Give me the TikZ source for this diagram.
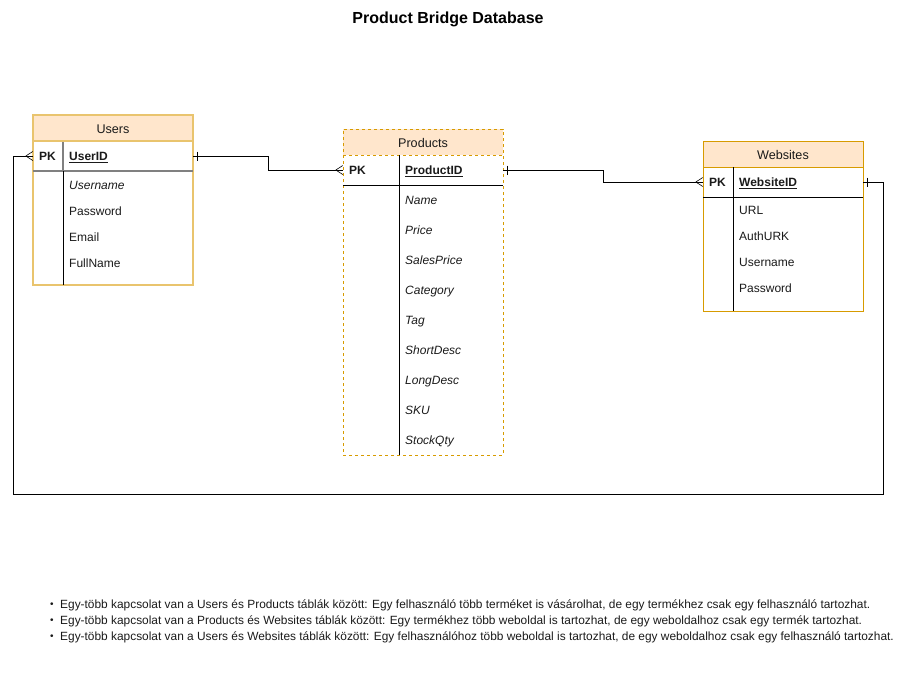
\documentclass[tikz,border=0pt]{standalone}
\usepackage{fontspec}
\setmainfont{Liberation Sans}
\definecolor{hdrfill}{HTML}{FFE6CC}
\definecolor{orng}{HTML}{D79B00}
\definecolor{goldb}{HTML}{E9C46E}
\definecolor{txt}{HTML}{1A1A1A}
\newcommand{\fsz}{\fontsize{12}{14}\selectfont}
\begin{document}
\begin{tikzpicture}[x=1pt,y=-1pt,
  font=\fsz, text=txt,
  tblbox/.style={draw, minimum width=160, inner sep=0},
  hdrbox/.style={draw, fill=hdrfill, minimum width=160, minimum height=26, inner sep=0, text height=11.6, text depth=0, font=\fontsize{12.6}{14}\selectfont},
  pkrow/.style={minimum width=160, minimum height=30, inner sep=0},
  fbase/.style={anchor=west, inner sep=0, text height=11.1, text depth=2.5},
  fld/.style={fbase, font=\fsz},
  bfld/.style={fbase, font=\fsz\bfseries},
  ifld/.style={fbase, font=\fsz\itshape},
  note/.style={anchor=west, inner sep=0, font=\fontsize{11.9}{14}\selectfont},
  bul/.style={inner sep=0, font=\fontsize{10}{12}\selectfont},
  conn/.style={line width=0.9pt, draw=black},
  sepline/.style={line width=0.9pt, draw=black}]
\useasboundingbox (0,0) rectangle (904,680);

\node[font=\bfseries\fontsize{16}{19}\selectfont, text=black] (title) at (448,19) {Product Bridge Database};

% ---------- Users ----------
\node[tblbox, draw=goldb, line width=1.6pt, minimum height=170] (users) at (113,200) {};
\node[hdrbox, draw=goldb, line width=1.6pt] (usersH) at (113,128) {Users};
\node[pkrow] (usersPK) at (113,156) {};
\draw[line width=1.6pt, draw=gray] (33,171) -- (193,171);
\draw[line width=1.6pt, draw=gray] (63,142) -- (63,171);
\draw[sepline] (63,171) -- (63,285);
\node[bfld] (usersPKl) at (39,156) {PK};
\node[bfld] (usersId) at (69,156) {\underline{UserID}};
\node[ifld] (u1) at (69,185) {Username};
\node[fld] (u2) at (69,211) {Password};
\node[fld] (u3) at (69,237) {Email};
\node[fld] (u4) at (69,263) {FullName};

% ---------- Products ----------
\node[tblbox, draw=orng, dashed, minimum height=326] (prod) at (423,292) {};
\node[hdrbox, draw=orng, dashed] (prodH) at (423,142) {Products};
\node[pkrow] (prodPK) at (423,170) {};
\draw[sepline] (343,185) -- (503,185);
\draw[sepline] (399,155) -- (399,455);
\node[bfld] (prodPKl) at (349,170) {PK};
\node[bfld] (prodId) at (405,170) {\underline{ProductID}};
\node[ifld] (p1) at (405,200) {Name};
\node[ifld] (p2) at (405,230) {Price};
\node[ifld] (p3) at (405,260) {SalesPrice};
\node[ifld] (p4) at (405,290) {Category};
\node[ifld] (p5) at (405,320) {Tag};
\node[ifld] (p6) at (405,350) {ShortDesc};
\node[ifld] (p7) at (405,380) {LongDesc};
\node[ifld] (p8) at (405,410) {SKU};
\node[ifld] (p9) at (405,440) {StockQty};

% ---------- Websites ----------
\node[tblbox, draw=orng, minimum height=170] (web) at (783,226) {};
\node[hdrbox, draw=orng] (webH) at (783,154) {Websites};
\node[pkrow] (webPK) at (783,182) {};
\draw[sepline] (703,197) -- (863,197);
\draw[sepline] (733,167) -- (733,311);
\node[bfld] (webPKl) at (709,182) {PK};
\node[bfld] (webId) at (739,182) {\underline{WebsiteID}};
\node[fld] (w1) at (739,210) {URL};
\node[fld] (w2) at (739,236) {AuthURK};
\node[fld] (w3) at (739,262) {Username};
\node[fld] (w4) at (739,288) {Password};

% ---------- Connectors ----------
\draw[conn] (usersPK.east) -- ++(75,0) |- (prodPK.west);
\draw[conn] (prodPK.east) -- ++(100,0) |- (webPK.west);
\draw[conn] (webPK.east) -- ++(20,0) -- ++(0,312) -- ++(-870,0) |- (usersPK.west);

% one (bar) marks
\draw[conn] ([shift={(4,-4.5)}]usersPK.east) -- ++(0,9);
\draw[conn] ([shift={(4,-4.5)}]prodPK.east) -- ++(0,9);
\draw[conn] ([shift={(4,-4.5)}]webPK.east) -- ++(0,9);

% many (crow's foot) marks
\foreach \n in {usersPK, prodPK, webPK} {
  \draw[line width=0.6pt] ([shift={(-7,0)}]\n.west) -- ([shift={(0,-4.5)}]\n.west);
  \draw[line width=0.6pt] ([shift={(-7,0)}]\n.west) -- ([shift={(0,4.5)}]\n.west);
}

% ---------- Notes ----------
\node[bul] (bul1) at (52,605) {•};
\node[bul] (bul2) at (52,621) {•};
\node[bul] (bul3) at (52,637) {•};
\node[note] (n1) at (60,605) {Egy-több kapcsolat van a Users és Products táblák között: Egy felhasználó több terméket is vásárolhat, de egy termékhez csak egy felhasználó tartozhat.};
\node[note] (n2) at (60,621) {Egy-több kapcsolat van a Products és Websites táblák között: Egy termékhez több weboldal is tartozhat, de egy weboldalhoz csak egy termék tartozhat.};
\node[note] (n3) at (60,637) {Egy-több kapcsolat van a Users és Websites táblák között: Egy felhasználóhoz több weboldal is tartozhat, de egy weboldalhoz csak egy felhasználó tartozhat.};
\end{tikzpicture}
\end{document}
